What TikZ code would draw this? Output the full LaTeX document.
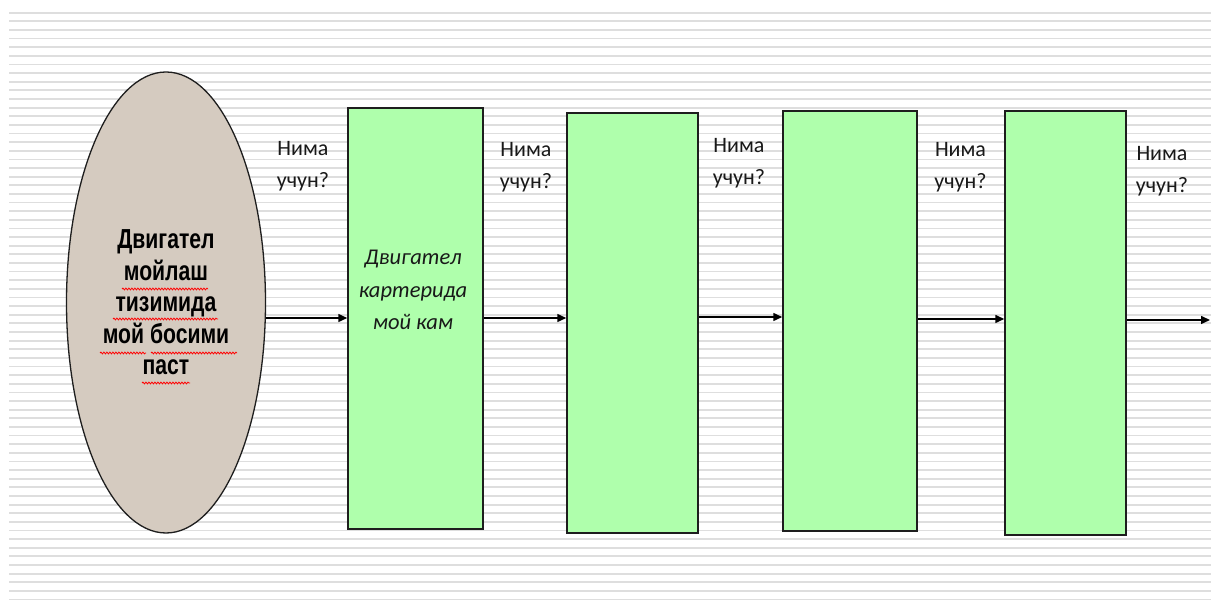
\documentclass[tikz,border=0pt]{standalone}
\usepackage{fontspec}
\setmainfont{Carlito}
\newfontfamily\narrowfont[FakeStretch=0.77]{Liberation Sans}
\usetikzlibrary{shapes.geometric,arrows.meta,decorations.pathmorphing}
\definecolor{stripegray}{RGB}{222,222,222}
\definecolor{boxgreen}{RGB}{175,255,172}
\definecolor{ovalfill}{RGB}{213,203,192}
\definecolor{edgegray}{RGB}{30,30,30}
\begin{document}
\begin{tikzpicture}[x=1pt,y=-1pt,
  stripe/.style={draw=stripegray,line width=1.8pt},
  stepbox/.style={draw=edgegray,line width=1.5pt,fill=boxgreen,inner sep=0pt},
  oval/.style={ellipse,draw=edgegray,line width=1.3pt,fill=ovalfill,inner sep=0pt,align=center,
    font=\narrowfont\bfseries\fontsize{27.5}{31.5}\selectfont},
  lbl/.style={align=center,inner sep=0pt,text=black!90,font=\fontsize{22}{32}\selectfont},
  itl/.style={align=center,inner sep=0pt,text=black!90,font=\fontsize{22.5}{32.5}\selectfont\itshape},
  arr/.style={line width=1.5pt,-{Triangle[length=9pt,width=8pt]}},
  wavy/.style={draw=red,line width=0.8pt,decorate,decoration={snake,amplitude=0.9pt,segment length=3pt}}]
\useasboundingbox (0,0) rectangle (1211,601);
\fill[white] (0,0) rectangle (1211,601);
\foreach \i in {0,...,68} {\draw[stripe] (9,{12.7+8.63*\i}) -- (1211,{12.7+8.63*\i});}

\node[oval,minimum width=199pt,minimum height=461pt] (e) at (166,302.5)
  {Двигател\\мойлаш\\тизимида\\мой босими\\паст};
\draw[wavy] (122,289) -- (208,289);
\draw[wavy] (113,319) -- (218,319);
\draw[wavy] (100,353) -- (146,353);
\draw[wavy] (151,353) -- (237,353);
\draw[wavy] (142,383) -- (190,383);

\node[stepbox,minimum width=135pt,minimum height=421pt] (b1) at (415.5,318.5) {};
\node[stepbox,minimum width=131pt,minimum height=420pt] (b2) at (632.5,323) {};
\node[stepbox,minimum width=134pt,minimum height=420pt] (b3) at (850,321) {};
\node[stepbox,minimum width=121pt,minimum height=424pt] (b4) at (1065.5,323) {};

\node[itl] (t1) at (413,290) {Двигател\\картерида\\мой кам};

\node[lbl] (q1) at (303,166) {Нима\\учун?};
\node[lbl] (q2) at (526,167) {Нима\\учун?};
\node[lbl] (q3) at (739,163) {Нима\\учун?};
\node[lbl] (q4) at (960.5,167) {Нима\\учун?};
\node[lbl] (q5) at (1162,171) {Нима\\учун?};

\coordinate (end) at (1210,320);
\draw[arr] (e.east |- 0,318) -- (b1.west |- 0,318);
\draw[arr] (b1.east |- 0,318) -- (b2.west |- 0,318);
\draw[arr] (b2.east |- 0,317) -- (b3.west |- 0,317);
\draw[arr] (b3.east |- 0,319) -- (b4.west |- 0,319);
\draw[arr] (b4.east |- end) -- (end);
\end{tikzpicture}
\end{document}
